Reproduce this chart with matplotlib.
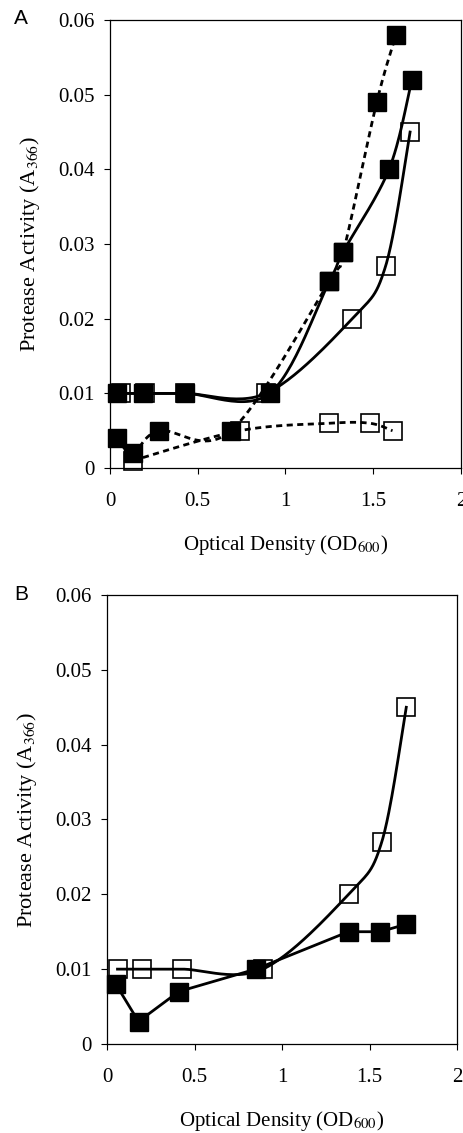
import numpy as np
import matplotlib
matplotlib.use('Agg')
import matplotlib.pyplot as plt
from matplotlib.ticker import FuncFormatter

plt.rcParams['font.family'] = 'Liberation Serif'
plt.rcParams['mathtext.fontset'] = 'stix'

# panel A
a_filled_solid_x = [0.04, 0.19, 0.43, 0.91, 1.25, 1.33, 1.59, 1.72]
a_filled_solid_y = [0.010, 0.010, 0.010, 0.010, 0.025, 0.029, 0.040, 0.052]
a_open_solid_x = [0.06, 0.20, 0.43, 0.89, 1.38, 1.57, 1.71]
a_open_solid_y = [0.010, 0.010, 0.010, 0.010, 0.020, 0.027, 0.045]
a_filled_dot_x = [0.04, 0.13, 0.28, 0.69, 1.25, 1.33, 1.52, 1.63]
a_filled_dot_y = [0.004, 0.002, 0.005, 0.005, 0.025, 0.029, 0.049, 0.058]
a_open_dot_x = [0.13, 0.74, 1.25, 1.48, 1.61]
a_open_dot_y = [0.001, 0.005, 0.006, 0.006, 0.005]

# panel B
b_open_x = [0.06, 0.20, 0.43, 0.89, 1.38, 1.57, 1.71]
b_open_y = [0.010, 0.010, 0.010, 0.010, 0.020, 0.027, 0.045]
b_filled_x = [0.05, 0.18, 0.41, 0.85, 1.38, 1.56, 1.71]
b_filled_y = [0.008, 0.003, 0.007, 0.010, 0.015, 0.015, 0.016]

xticks = [0, 0.5, 1, 1.5, 2]
yticks = [0, 0.01, 0.02, 0.03, 0.04, 0.05, 0.06]


def smooth(x, y, n=30):
    # excel style smoothed line (catmull-rom as bezier)
    p = np.column_stack([x, y])
    out = [p[0]]
    t = np.linspace(0, 1, n)[1:, None]
    for i in range(len(p) - 1):
        p0 = p[max(i - 1, 0)]
        p1 = p[i]
        p2 = p[i + 1]
        p3 = p[min(i + 2, len(p) - 1)]
        c1 = p1 + (p2 - p0) / 6
        c2 = p2 - (p3 - p1) / 6
        seg = (1 - t)**3 * p1 + 3 * (1 - t)**2 * t * c1 + 3 * (1 - t) * t**2 * c2 + t**3 * p2
        out.extend(seg)
    out = np.array(out)
    return out[:, 0], out[:, 1]


def style_axes(ax):
    ax.set_xlim(0, 2)
    ax.set_ylim(0, 0.06)
    ax.set_xticks(xticks)
    ax.set_yticks(yticks)
    ax.xaxis.set_major_formatter(FuncFormatter(lambda v, p: '%g' % v))
    ax.yaxis.set_major_formatter(FuncFormatter(lambda v, p: '%g' % v))
    ax.tick_params(direction='out', length=4, width=0.8, labelsize=15)
    ax.tick_params(axis='x', pad=13)
    ax.tick_params(axis='y', pad=7)
    for s in ax.spines.values():
        s.set_linewidth(0.9)
    ax.set_xlabel(r'Optical Density (OD$_{\mathrm{600}}$)', fontsize=15, labelpad=16)
    ax.set_ylabel(r'Protease Activity (A$_{\mathrm{366}}$)', fontsize=16, labelpad=12)


def draw(ax, x, y, filled, ls, smoothed=True):
    if smoothed:
        sx, sy = smooth(x, y)
    else:
        sx, sy = x, y
    ax.plot(sx, sy, color='black', lw=2.0, linestyle=ls, zorder=3, clip_on=False)
    if filled:
        ax.plot(x, y, 's', ms=13, mfc='black', mec='black', zorder=5, clip_on=False)
    else:
        ax.plot(x, y, 's', ms=13, mfc='none', mec='black', mew=1.2, zorder=4, clip_on=False)


fig = plt.figure(figsize=(4.63, 11.33), dpi=100)

axA = fig.add_axes([0.2376, 0.5869, 0.758, 0.3954])
dots = (0, (2.2, 1.6))
draw(axA, a_open_dot_x, a_open_dot_y, False, dots)
draw(axA, a_filled_dot_x, a_filled_dot_y, True, dots)
draw(axA, a_open_solid_x, a_open_solid_y, False, '-')
draw(axA, a_filled_solid_x, a_filled_solid_y, True, '-')
style_axes(axA)

axB = fig.add_axes([0.2311, 0.0786, 0.756, 0.3962])
draw(axB, b_open_x, b_open_y, False, '-')
draw(axB, b_filled_x, b_filled_y, True, '-', smoothed=False)
style_axes(axB)

fig.text(21 / 463, 1 - 18 / 1133, 'A', family='Liberation Sans', fontsize=15, ha='center', va='center')
fig.text(21 / 463, 1 - 595 / 1133, 'B', family='Liberation Sans', fontsize=15, ha='center', va='center')

fig.savefig('out.png', dpi=100)
